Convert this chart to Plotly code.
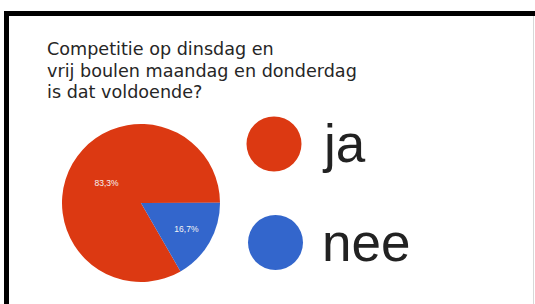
import plotly.graph_objects as go

W, H = 535, 304

# ---- data ----
labels = ["ja", "nee"]
values = [83.3, 16.7]
value_text = ["83,3%", "16,7%"]
colors = ["#DC3912", "#3366CC"]
title_lines = ["Competitie op dinsdag en", "vrij boulen maandag en donderdag", "is dat voldoende?"]


def px(x):
    return x / W


def py(y):
    return 1 - y / H


fig = go.Figure()
fig.add_trace(go.Pie(
    labels=labels,
    values=values,
    text=value_text,
    textinfo="text",
    textposition="inside",
    insidetextorientation="horizontal",
    textfont=dict(family="Liberation Sans", size=8.5, color="#f4f4f4"),
    marker=dict(colors=colors, line=dict(width=0)),
    sort=False,
    direction="clockwise",
    rotation=150,
    showlegend=False,
    hoverinfo="label+percent",
    domain=dict(x=[px(62), px(220)], y=[py(282), py(124)]),
))

shapes = [
    # black frame (top and left), thin grey right edge
    dict(type="rect", xref="paper", yref="paper", x0=px(4), x1=px(540), y0=py(16), y1=py(11),
         fillcolor="black", line=dict(width=0), layer="above"),
    dict(type="rect", xref="paper", yref="paper", x0=px(4), x1=px(9), y0=py(310), y1=py(11),
         fillcolor="black", line=dict(width=0), layer="above"),
    dict(type="line", xref="paper", yref="paper", x0=px(533.5), x1=px(533.5), y0=py(310), y1=py(16),
         line=dict(color="#d8d8d8", width=1)),
]

annotations = []
# title lines
title_top = 37
for i, t in enumerate(title_lines):
    annotations.append(dict(
        text=t, xref="paper", yref="paper", x=px(45), y=py(title_top + i * 21.5),
        xanchor="left", yanchor="top", showarrow=False,
        font=dict(family="DejaVu Sans", size=17.6, color="#262626"),
    ))

# custom legend: big circles + labels
leg_cx = [274, 275.5]
leg_cy = [144, 242.5]
r = 27.5
for i, lab in enumerate(labels):
    shapes.append(dict(type="circle", xref="paper", yref="paper",
                       x0=px(leg_cx[i] - r), x1=px(leg_cx[i] + r),
                       y0=py(leg_cy[i] + r), y1=py(leg_cy[i] - r),
                       fillcolor=colors[i], line=dict(width=0)))
    annotations.append(dict(
        text=lab, xref="paper", yref="paper", x=px(320), y=py(leg_cy[i]),
        xanchor="left", yanchor="middle", showarrow=False,
        font=dict(family="Liberation Sans", size=53, color="#222222"),
    ))

fig.update_layout(
    width=W, height=H,
    margin=dict(l=0, r=0, t=0, b=0),
    paper_bgcolor="white",
    plot_bgcolor="white",
    shapes=shapes,
    annotations=annotations,
)

fig.write_html(
    "out.html",
    config={"displayModeBar": False},
    post_script=(
        "document.documentElement.style.overflow='hidden';"
        "document.body.style.margin='0px';"
        "document.body.style.overflow='hidden';"
    ),
)
